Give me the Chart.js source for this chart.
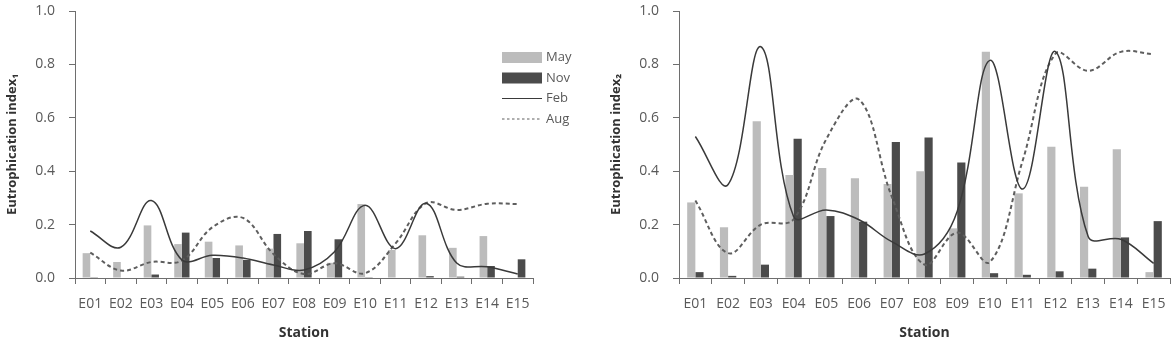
<!DOCTYPE html>
<html>
<head>
<meta charset="utf-8">
<script src="https://cdn.jsdelivr.net/npm/chart.js@4.4.1/dist/chart.umd.min.js"></script>
<style>
  body { margin: 0; background: #fff; width: 1172px; height: 339px; overflow: hidden; position: relative; }
  .box { position: absolute; top: 0; height: 339px; }
  #left { left: 0; width: 592px; }
  #right { left: 604px; width: 568px; }
</style>
</head>
<body>
<div class="box" id="left"><canvas id="chart1"></canvas></div>
<div class="box" id="right"><canvas id="chart2"></canvas></div>
<script>
const stations = ['E01', 'E02', 'E03', 'E04', 'E05', 'E06', 'E07', 'E08', 'E09', 'E10', 'E11', 'E12', 'E13', 'E14', 'E15'];
const seriesNames = ['May', 'Nov', 'Feb', 'Aug'];

// index 1 (left panel)
const may1 = [0.093, 0.06, 0.197, 0.127, 0.136, 0.122, 0.11, 0.13, 0.057, 0.277, 0.105, 0.16, 0.113, 0.157, 0];
const nov1 = [0.003, 0, 0.013, 0.17, 0.075, 0.068, 0.165, 0.176, 0.145, 0.003, 0, 0.007, 0.005, 0.045, 0.07];
const feb1 = [0.176, 0.115, 0.29, 0.068, 0.085, 0.075, 0.049, 0.03, 0.098, 0.272, 0.11, 0.28, 0.056, 0.042, 0.015];
const aug1 = [0.095, 0.028, 0.06, 0.065, 0.19, 0.225, 0.09, 0.015, 0.055, 0.018, 0.13, 0.28, 0.255, 0.278, 0.277];

// index 2 (right panel)
const may2 = [0.283, 0.19, 0.587, 0.386, 0.412, 0.374, 0.352, 0.4, 0.186, 0.847, 0.317, 0.492, 0.342, 0.482, 0.022];
const nov2 = [0.022, 0.008, 0.05, 0.522, 0.232, 0.211, 0.509, 0.526, 0.433, 0.018, 0.012, 0.025, 0.035, 0.152, 0.213];
const feb2 = [0.53, 0.35, 0.866, 0.23, 0.255, 0.218, 0.136, 0.09, 0.25, 0.815, 0.333, 0.848, 0.155, 0.145, 0.055];
const aug2 = [0.29, 0.093, 0.2, 0.22, 0.52, 0.668, 0.305, 0.05, 0.17, 0.06, 0.44, 0.84, 0.776, 0.847, 0.838];

const yTickValues = [0, 0.2, 0.4, 0.6, 0.8, 1.0];

const FONT = "'Open Sans', 'Liberation Sans', sans-serif";
const axisColor = '#6e6e6e';
const textColor = '#595959';

// legend drawn inside the left plot
const legendBox = {
  id: 'legendBox',
  afterDraw(chart) {
    const ctx = chart.ctx;
    const x = 502, y0 = 57.5, step = 20.5;
    ctx.save();
    ctx.font = "13px " + FONT;
    ctx.textBaseline = 'middle';
    chart.data.datasets.forEach((ds, i) => {
      const y = y0 + i * step;
      if (ds.type === 'line') {
        ctx.strokeStyle = ds.borderColor;
        ctx.lineWidth = 1.2;
        ctx.setLineDash(ds.borderDash.length ? [2.5, 2.5] : []);
        ctx.beginPath();
        ctx.moveTo(x, y);
        ctx.lineTo(x + 40, y);
        ctx.stroke();
        ctx.setLineDash([]);
      } else {
        ctx.fillStyle = ds.backgroundColor;
        ctx.fillRect(x, y - 5.5, 40, 11);
      }
      ctx.fillStyle = textColor;
      ctx.fillText(ds.label, x + 44, y);
    });
    ctx.restore();
  }
};

function makeChart(id, may, nov, feb, aug, yTitle, padRight, withLegend) {
  return new Chart(document.getElementById(id), {
    type: 'bar',
    data: {
      labels: stations,
      datasets: [
        { label: seriesNames[0], data: may, backgroundColor: '#bcbcbc', order: 2,
          categoryPercentage: 0.5, barPercentage: 1.0 },
        { label: seriesNames[1], data: nov, backgroundColor: '#4b4b4b', order: 2,
          categoryPercentage: 0.5, barPercentage: 1.0 },
        { type: 'line', label: seriesNames[2], data: feb, borderColor: '#3a3a3a', borderWidth: 1.5,
          borderDash: [], tension: 0.38, pointRadius: 0, fill: false, order: 0 },
        { type: 'line', label: seriesNames[3], data: aug, borderColor: '#5e5e5e', borderWidth: 2,
          borderDash: [4, 3], tension: 0.38, pointRadius: 0, fill: false, order: 1 }
      ]
    },
    options: {
      responsive: true,
      maintainAspectRatio: false,
      animation: false,
      layout: { padding: { left: 0, right: padRight, top: 11, bottom: 0 } },
      plugins: { legend: { display: false }, tooltip: { enabled: false } },
      scales: {
        x: {
          offset: true,
          grid: { offset: true, drawOnChartArea: false, drawTicks: true, tickLength: 6, color: axisColor },
          border: { display: true, color: axisColor, width: 1 },
          ticks: { color: textColor, font: { family: FONT, size: 14 }, padding: 12, maxRotation: 0, autoSkip: false },
          title: { display: true, text: 'Station', color: '#333', font: { family: FONT, size: 14, weight: 'bold' },
                   padding: { top: 0, bottom: -2 } },
          afterFit: s => { s.height = 61; s.paddingLeft = 0; s.paddingRight = 0; }
        },
        y: {
          min: 0, max: 1,
          afterBuildTicks: s => { s.ticks = yTickValues.map(v => ({ value: v })); },
          grid: { drawOnChartArea: false, drawTicks: true, tickLength: 6, color: axisColor },
          border: { display: true, color: axisColor, width: 1 },
          ticks: { color: textColor, font: { family: FONT, size: 14 }, padding: 14,
                   callback: v => Number(v).toFixed(1) },
          title: { display: true, text: yTitle, color: '#333', font: { family: FONT, size: 13, weight: 'bold' },
                   padding: { top: 4, bottom: 0 } },
          afterFit: s => { s.width = 75; s.paddingTop = 0; s.paddingBottom = 0; }
        }
      }
    },
    plugins: withLegend ? [legendBox] : []
  });
}

makeChart('chart1', may1, nov1, feb1, aug1, 'Eutrophication index\u2081', 59, true);
makeChart('chart2', may2, nov2, feb2, aug2, 'Eutrophication index\u2082', 2, false);
</script>
</body>
</html>
